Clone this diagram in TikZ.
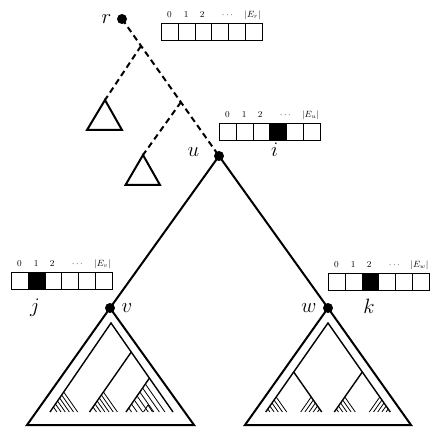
\documentclass[tikz,border=0pt]{standalone}
\newcommand\fanleft[4]{% spine from (#1,#2) down-left to (#3,412); hatch down-right
  \foreach \ys in {#4}{%
    \pgfmathsetmacro\xs{#1-(#1-#3)*(\ys-#2)/(412-#2)}%
    \pgfmathsetmacro\xe{\xs+0.7*(412-\ys)}%
    \draw[hatchline] (\xs,\ys) -- (\xe,412);
  }}
\newcommand\fanright[4]{% spine from (#1,#2) down-right to (#3,412); hatch down-left
  \foreach \ys in {#4}{%
    \pgfmathsetmacro\xs{#1+(#3-#1)*(\ys-#2)/(412-#2)}%
    \pgfmathsetmacro\xe{\xs-0.7*(412-\ys)}%
    \draw[hatchline] (\xs,\ys) -- (\xe,412);
  }}
\newcommand\drawarr[5]{% name, x0, y0, black index, subscript
  \foreach \k in {0,...,5}{%
    \ifnum\k=#4\relax
      \node[blkcell] (#1\k) at ({#2+16.8*\k},#3) {};
    \else
      \node[cell] (#1\k) at ({#2+16.8*\k},#3) {};
    \fi}
  \node[idx] at ({#2+0.5*16.8},{#3-5.5}) {0};
  \node[idx] at ({#2+1.5*16.8},{#3-5.5}) {1};
  \node[idx] at ({#2+2.45*16.8},{#3-5.5}) {2};
  \node[idx] at ({#2+3.95*16.8},{#3-5.5}) {$\cdots$};
  \node[idx] at ({#2+5.45*16.8},{#3-5.5}) {$|E_{#5}|$};
}
\begin{document}
\begin{tikzpicture}[x=1pt,y=-1pt,
  dot/.style={circle,fill=black,inner sep=0pt,minimum size=10pt},
  lbl/.style={font=\huge,anchor=base,inner sep=0pt},
  cell/.style={draw,line width=0.9pt,minimum width=16.8pt,minimum height=17pt,inner sep=0pt,anchor=north west},
  blkcell/.style={cell,fill=black},
  idx/.style={font=\small,anchor=base,inner sep=0pt},
  dashedge/.style={line width=2pt,dash pattern=on 6pt off 4pt},
  outerline/.style={line width=2pt,line join=miter},
  innerline/.style={line width=1.4pt},
  hatchline/.style={line width=0.8pt}]
\useasboundingbox (0,0) rectangle (432,428);

% main nodes
\node[dot] (r) at (122,19) {};
\node[dot] (u) at (219,156) {};
\node[dot] (v) at (110,308) {};
\node[dot] (w) at (328,308) {};

\node[lbl] (lr) at (106.5,23.3) {$r$};
\node[lbl] (lu) at (193.5,156.7) {$u$};
\node[lbl] (li) at (274.5,157) {$i$};
\node[lbl] (lj) at (35,312.7) {$j$};
\node[lbl] (lv) at (127,312.7) {$v$};
\node[lbl] (lw) at (309,312.7) {$w$};
\node[lbl] (lk) at (369,313) {$k$};

% dashed part
\coordinate (b1) at (141,46);
\coordinate (b2) at (181,102);
\coordinate (t1) at (105,100);
\coordinate (t1l) at (87,130);
\coordinate (t1r) at (122,130);
\coordinate (t2) at (143,155);
\coordinate (t2l) at (125.5,185);
\coordinate (t2r) at (160,185);
\draw[dashedge] (r.center) -- (u.center);
\draw[dashedge] (b1) -- (t1);
\draw[dashedge] (b2) -- (t2);
\draw[outerline] (t1) -- (t1l) -- (t1r) -- cycle;
\draw[outerline] (t2) -- (t2l) -- (t2r) -- cycle;

% solid edges
\draw[outerline] (u.center) -- (v.center);
\draw[outerline] (u.center) -- (w.center);

% left subtree
\coordinate (vl) at (27,425);
\coordinate (vr) at (194,425);
\draw[outerline] (v.center) -- (vl) -- (vr) -- cycle;
\coordinate (A) at (111,323);
\coordinate (Al) at (50,412);
\coordinate (Ar) at (173,412);
\coordinate (B) at (131.3,352);
\coordinate (Bl) at (89.5,412);
\coordinate (C) at (149.5,378);
\coordinate (Cl) at (126,412);
\draw[innerline] (Al) -- (A) -- (Ar);
\draw[innerline] (B) -- (Bl);
\draw[innerline] (C) -- (Cl);
\fanleft{111}{323}{50}{392,395,398,401,404,407}
\fanleft{131.3}{352}{89.5}{392,395,398,401,404,407}
\fanleft{149.5}{378}{126}{384,388,392,396,400,404,408}
\coordinate (m1) at (148,405);
\draw[hatchline] (143.5,412) -- (m1) -- (152.5,412);

% right subtree
\coordinate (wl) at (245,425);
\coordinate (wr) at (411,425);
\draw[outerline] (w.center) -- (wl) -- (wr) -- cycle;
\coordinate (A2) at (328,323);
\coordinate (L2) at (293.7,372);
\coordinate (R2) at (362.3,372);
\coordinate (L2l) at (265.7,412);
\coordinate (L2r) at (321.7,412);
\coordinate (R2l) at (334.3,412);
\coordinate (R2r) at (390.3,412);
\draw[innerline] (L2l) -- (L2) -- (A2) -- (R2) -- (R2r);
\draw[innerline] (L2) -- (L2r);
\draw[innerline] (R2) -- (R2l);
\fanleft{293.7}{372}{265.7}{397,400,403,406,409}
\fanright{293.7}{372}{321.7}{397,400,403,406,409}
\fanleft{362.3}{372}{334.3}{397,400,403,406,409}
\fanright{362.3}{372}{390.3}{397,400,403,406,409}

% arrays
\drawarr{ar}{161}{23}{-1}{r}
\drawarr{au}{219}{123}{3}{u}
\drawarr{av}{11}{272}{1}{v}
\drawarr{aw}{328}{273}{2}{w}
\end{tikzpicture}
\end{document}
